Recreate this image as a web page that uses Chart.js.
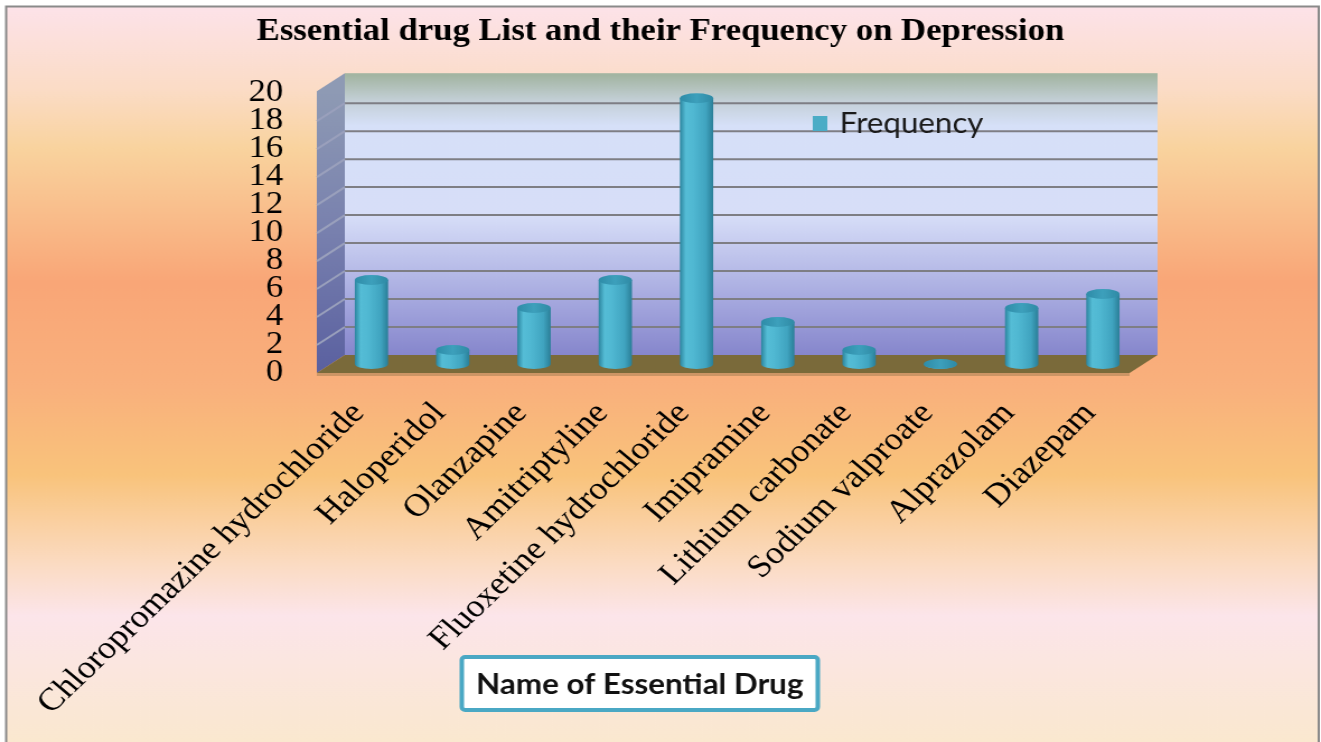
<!DOCTYPE html>
<html><head><meta charset="utf-8">
<script src="https://cdn.jsdelivr.net/npm/chart.js@4.4.1/dist/chart.umd.min.js"></script>
<style>
html,body{margin:0;padding:0;background:#fff;overflow:hidden;}
#wrap{position:absolute;left:0;top:0;width:1180px;height:742px;transform:scaleX(1.11949);transform-origin:0 0;}
canvas{display:block;}
</style></head><body>
<div id="wrap"><canvas id="c" width="1180" height="742"></canvas></div>
<script>
// ---- data ----
const categories = ['Chloropromazine hydrochloride','Haloperidol','Olanzapine','Amitriptyline','Fluoxetine hydrochloride','Imipramine','Lithium carbonate','Sodium valproate','Alprazolam','Diazepam'];
const frequency = [6, 1, 4, 6, 19, 3, 1, 0, 4, 5];
const yTickValues = [0, 2, 4, 6, 8, 10, 12, 14, 16, 18, 20];
const seriesName = 'Frequency';
const chartTitle = 'Essential drug List and their Frequency on Depression';
const xAxisTitle = 'Name of Essential Drug';

// ---- style constants ----
const DX = 25, DY = -18;      // depth of back wall
const MX = 12.5, MY = -9;     // cylinder (mid-depth) offset
const BAR_PCT = 0.41;
const SERIF = '"Liberation Serif", "Times New Roman", serif';
const SANS = 'Lato, "Open Sans", sans-serif';

function cylGrad(ctx, xl, xr) {
  const g = ctx.createLinearGradient(xl, 0, xr, 0);
  g.addColorStop(0, '#2B849E');
  g.addColorStop(0.18, '#55BDD6');
  g.addColorStop(0.4, '#50B8D2');
  g.addColorStop(0.78, '#40A4C0');
  g.addColorStop(1, '#2A7E97');
  return g;
}

const scenePlugin = {
  id: 'scene',
  beforeDraw(chart) {
    const ctx = chart.ctx, W = chart.width, H = chart.height;
    ctx.save();
    ctx.fillStyle = '#fff';
    ctx.fillRect(0, 0, W, H);
    const bg = ctx.createLinearGradient(0, 0, 0, H);
    bg.addColorStop(0.0, '#FDE3EC');
    bg.addColorStop(0.12, '#FBDCC6');
    bg.addColorStop(0.2, '#F9D39E');
    bg.addColorStop(0.38, '#F9A677');
    bg.addColorStop(0.52, '#F9B07C');
    bg.addColorStop(0.64, '#F9C37B');
    bg.addColorStop(0.76, '#FBDBC2');
    bg.addColorStop(0.83, '#FCE5EA');
    bg.addColorStop(1.0, '#FAE8CF');
    ctx.fillStyle = bg;
    ctx.fillRect(5, 6, W - 7, H - 6);
    ctx.strokeStyle = '#8a8a8a';
    ctx.lineWidth = 2;
    ctx.beginPath();
    ctx.moveTo(5.5, H); ctx.lineTo(5.5, 6.5); ctx.lineTo(W - 2, 6.5); ctx.lineTo(W - 2, H);
    ctx.stroke();

    const A = chart.chartArea, ys = chart.scales.y;
    const y0 = ys.getPixelForValue(0), yT = ys.getPixelForValue(20);
    const L = A.left, R = A.right;
    // back wall
    const wg = ctx.createLinearGradient(0, yT + DY, 0, y0 + DY);
    wg.addColorStop(0, '#A3B5A2');
    wg.addColorStop(0.09, '#C3CFD6');
    wg.addColorStop(0.18, '#D6E0F8');
    wg.addColorStop(0.5, '#D7DEF8');
    wg.addColorStop(0.8, '#A6A9DF');
    wg.addColorStop(1, '#8686CC');
    ctx.fillStyle = wg;
    ctx.fillRect(L + DX, yT + DY - 2, R - L, y0 - yT + 2);
    // side wall
    const sg = ctx.createLinearGradient(0, yT, 0, y0);
    sg.addColorStop(0, '#8E9AB4');
    sg.addColorStop(0.5, '#7880AE');
    sg.addColorStop(1, '#5A60A0');
    ctx.fillStyle = sg;
    ctx.beginPath();
    ctx.moveTo(L, y0); ctx.lineTo(L, yT - 2); ctx.lineTo(L + DX, yT + DY - 2); ctx.lineTo(L + DX, y0 + DY);
    ctx.closePath(); ctx.fill();
    // gridlines
    ctx.lineWidth = 2;
    yTickValues.forEach(v => {
      if (v === 0 || v === 20) return;
      const yy = ys.getPixelForValue(v);
      ctx.strokeStyle = '#7E7E84';
      ctx.beginPath();
      ctx.moveTo(L + DX, yy + DY); ctx.lineTo(R + DX, yy + DY);
      ctx.stroke();
      ctx.strokeStyle = '#9AA0BC';
      ctx.beginPath();
      ctx.moveTo(L, yy); ctx.lineTo(L + DX, yy + DY);
      ctx.stroke();
    });
    // floor
    ctx.fillStyle = '#7A6A3A';
    ctx.beginPath();
    ctx.moveTo(L, y0); ctx.lineTo(R, y0); ctx.lineTo(R + DX, y0 + DY); ctx.lineTo(L + DX, y0 + DY);
    ctx.closePath(); ctx.fill();
    ctx.fillStyle = 'rgba(120,100,60,0.35)';
    ctx.beginPath();
    ctx.moveTo(L, y0); ctx.lineTo(R, y0); ctx.lineTo(R, y0 + 3); ctx.lineTo(L, y0 + 3);
    ctx.closePath(); ctx.fill();
    ctx.restore();
  },
  beforeDatasetsDraw(chart) {
    chart.ctx.save();
    chart.ctx.translate(MX, MY);
  },
  afterDatasetsDraw(chart) {
    const ctx = chart.ctx;
    const meta = chart.getDatasetMeta(0);
    meta.data.forEach((el) => {
      const p = el.getProps(['x', 'y', 'base', 'width'], true);
      const rx = p.width / 2, ry = 5;
      const g = cylGrad(ctx, p.x - rx, p.x + rx);
      ctx.fillStyle = g;
      ctx.beginPath();
      ctx.ellipse(p.x, p.base, rx, ry, 0, 0, Math.PI);
      ctx.fill();
      const tg = ctx.createLinearGradient(p.x - rx, 0, p.x + rx, 0);
      tg.addColorStop(0, '#2E8CA8');
      tg.addColorStop(0.5, '#3DA0BC');
      tg.addColorStop(1, '#2F8AA5');
      ctx.fillStyle = tg;
      ctx.beginPath();
      ctx.ellipse(p.x, p.y, rx, ry, 0, 0, Math.PI * 2);
      ctx.fill();
    });
    ctx.restore();
  },
  afterDraw(chart) {
    const ctx = chart.ctx;
    ctx.save();
    // legend
    ctx.fillStyle = '#4BACC6';
    ctx.fillRect(726, 116, 13, 15);
    ctx.fillStyle = '#1a1a1a';
    ctx.font = '28px ' + SANS;
    ctx.textAlign = 'left';
    ctx.textBaseline = 'middle';
    ctx.fillText(chart.data.datasets[0].label, 750, 124);
    // x axis title box
    const bx = 412.5, by = 657, bw = 318, bh = 53;
    ctx.fillStyle = '#ffffff';
    ctx.strokeStyle = '#4AA8C4';
    ctx.lineWidth = 4;
    ctx.beginPath();
    ctx.roundRect(bx, by, bw, bh, 3);
    ctx.fill(); ctx.stroke();
    ctx.fillStyle = '#111';
    ctx.font = 'bold 28px ' + SANS;
    ctx.textAlign = 'center';
    ctx.fillText(xAxisTitle, bx + bw / 2, by + bh / 2 + 1);
    ctx.restore();
  }
};

new Chart(document.getElementById('c'), {
  type: 'bar',
  data: {
    labels: categories,
    datasets: [{
      label: seriesName,
      data: frequency,
      clip: false,
      barPercentage: BAR_PCT,
      categoryPercentage: 1,
      borderWidth: 0,
      backgroundColor: (c) => {
        const ch = c.chart, xs = ch.scales.x;
        if (!xs || !ch.chartArea) return '#4BACC6';
        const x = xs.getPixelForValue(c.dataIndex);
        const w = xs.width / categories.length * BAR_PCT;
        return cylGrad(ch.ctx, x - w / 2, x + w / 2);
      }
    }]
  },
  options: {
    responsive: false,
    animation: false,
    devicePixelRatio: 1,
    layout: { padding: { left: 0, right: 0, top: 0, bottom: 0 } },
    plugins: {
      legend: { display: false },
      tooltip: { enabled: false },
      title: {
        display: true,
        text: chartTitle,
        color: '#000',
        font: { family: SERIF, size: 31, weight: 'bold' },
        padding: { top: 13, bottom: 43 }
      }
    },
    scales: {
      x: {
        grid: { display: false, drawTicks: false },
        border: { display: false },
        afterFit: (s) => { s.height = 369; },
        ticks: {
          autoSkip: false,
          minRotation: 47, maxRotation: 47,
          padding: 22,
          labelOffset: 1,
          color: '#000',
          font: { family: SERIF, size: 32 }
        }
      },
      y: {
        min: 0, max: 20,
        grid: { display: false, drawTicks: false },
        border: { display: false },
        afterFit: (s) => { s.width = 283; },
        afterBuildTicks: (s) => { s.ticks = yTickValues.map(v => ({ value: v })); },
        ticks: {
          autoSkip: false,
          padding: 30,
          color: '#000',
          font: { family: SERIF, size: 31 }
        }
      },
      yRight: {
        type: 'linear',
        position: 'right',
        display: true,
        grid: { display: false, drawTicks: false },
        border: { display: false },
        ticks: { display: false },
        afterFit: (s) => { s.width = 171; }
      }
    }
  },
  plugins: [scenePlugin]
});
</script>
</body></html>
